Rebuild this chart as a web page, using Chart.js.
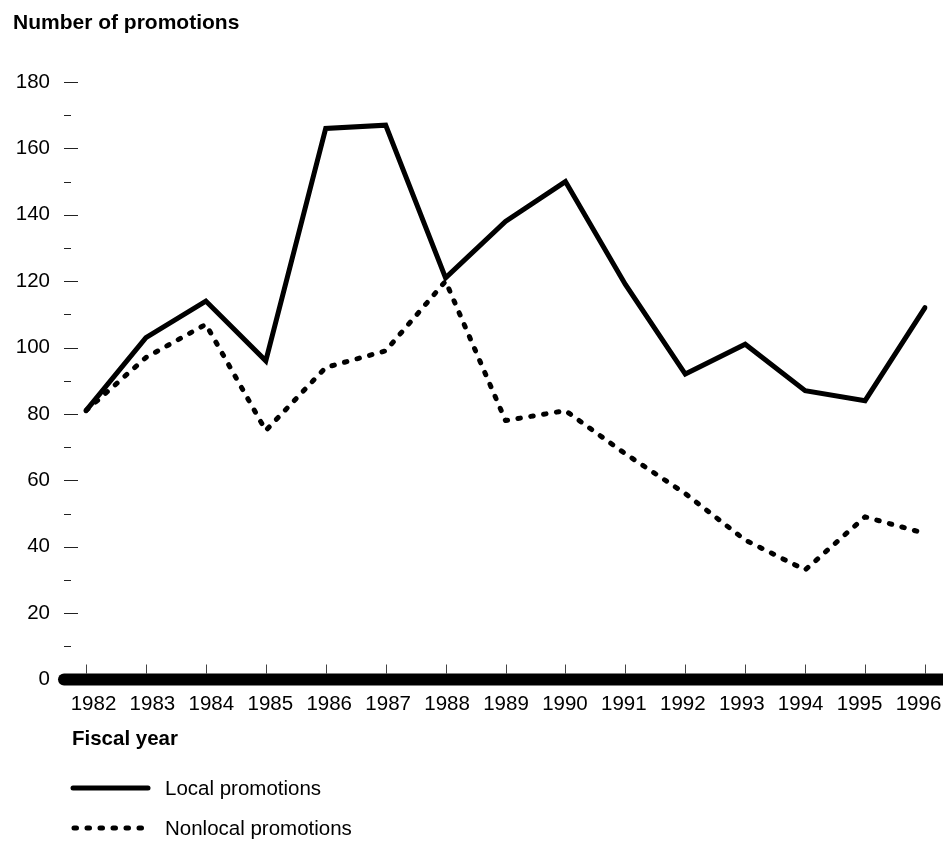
<!DOCTYPE html>
<html>
<head>
<meta charset="utf-8">
<script src="https://cdn.jsdelivr.net/npm/chart.js@4.4.1/dist/chart.umd.min.js"></script>
<style>
  html, body { margin: 0; padding: 0; background: #ffffff; }
  #wrap { width: 943px; height: 842px; position: relative; }
</style>
</head>
<body>
<div id="wrap"><canvas id="c"></canvas></div>
<script>
// ---- Data ----
const years = ['1982','1983','1984','1985','1986','1987','1988','1989','1990','1991','1992','1993','1994','1995','1996'];
const localPromotions    = [81, 103, 114, 96, 166, 167, 121, 138, 150, 119, 92, 101, 87, 84, 112];
const nonlocalPromotions = [81,  97, 107, 75,  94,  99, 120,  78,  81,  68, 56,  42, 33, 49,  44];
const yTickValues = [0, 20, 40, 60, 80, 100, 120, 140, 160, 180];
const chartTitle = 'Number of promotions';
const xAxisTitle = 'Fiscal year';
const seriesNames = ['Local promotions', 'Nonlocal promotions'];

const FONT = '"Liberation Sans", Arial, Helvetica, sans-serif';

const decorPlugin = {
  id: 'decor',
  beforeDatasetsDraw(chart) {
    const ctx = chart.ctx;
    const xs = chart.scales.x, ys = chart.scales.y;
    const y0 = ys.getPixelForValue(0);
    ctx.save();
    // y-axis tick marks (major + minor)
    ctx.strokeStyle = '#222';
    ctx.lineWidth = 1;
    yTickValues.forEach((v, i) => {
      const py = Math.round(ys.getPixelForValue(v)) + 0.5;
      if (v !== 0) {
        ctx.beginPath(); ctx.moveTo(64, py); ctx.lineTo(78, py); ctx.stroke();
      }
      if (i < yTickValues.length - 1) {
        const pm = Math.round(ys.getPixelForValue((v + yTickValues[i + 1]) / 2)) + 0.5;
        ctx.beginPath(); ctx.moveTo(64, pm); ctx.lineTo(71, pm); ctx.stroke();
      }
    });
    // x-axis tick marks
    ctx.strokeStyle = '#444';
    years.forEach((yr, i) => {
      const px = Math.round(xs.getPixelForValue(i)) + 0.5;
      ctx.beginPath(); ctx.moveTo(px, y0 - 15); ctx.lineTo(px, y0 - 6); ctx.stroke();
    });
    // thick baseline
    ctx.strokeStyle = '#000';
    ctx.lineWidth = 12;
    ctx.lineCap = 'round';
    ctx.beginPath();
    ctx.moveTo(chart.chartArea.left - 22, y0);
    ctx.lineTo(chart.width + 20, y0);
    ctx.stroke();
    ctx.restore();
  },
  afterDraw(chart) {
    const ctx = chart.ctx;
    ctx.save();
    ctx.fillStyle = '#000';
    ctx.textAlign = 'left';
    ctx.textBaseline = 'alphabetic';
    ctx.font = 'bold 21px ' + FONT;
    ctx.fillText(chartTitle, 13, 29);
    ctx.font = 'bold 20.5px ' + FONT;
    ctx.fillText(xAxisTitle, 72, 745);
    // legend
    chart.data.datasets.forEach((ds, i) => {
      const ly = 788 + i * 40;
      ctx.save();
      ctx.strokeStyle = ds.borderColor;
      ctx.lineWidth = ds.borderWidth;
      ctx.lineCap = 'round';
      ctx.setLineDash(ds.borderDash || []);
      ctx.beginPath();
      if (ds.borderDash && ds.borderDash.length) {
        ctx.moveTo(74, ly); ctx.lineTo(150, ly);
      } else {
        ctx.moveTo(73, ly); ctx.lineTo(148, ly);
      }
      ctx.stroke();
      ctx.restore();
      ctx.font = '20.5px ' + FONT;
      ctx.textBaseline = 'middle';
      ctx.fillText(ds.label, 165, ly + 1);
    });
    ctx.restore();
  }
};

new Chart(document.getElementById('c'), {
  type: 'line',
  data: {
    labels: years,
    datasets: [
      {
        label: seriesNames[0],
        data: localPromotions,
        borderColor: '#000',
        borderWidth: 5,
        borderCapStyle: 'round',
        borderJoinStyle: 'miter',
        pointRadius: 0,
        tension: 0,
        fill: false
      },
      {
        label: seriesNames[1],
        data: nonlocalPromotions,
        borderColor: '#000',
        borderWidth: 5,
        borderDash: [2.5, 10.5],
        borderCapStyle: 'round',
        borderJoinStyle: 'round',
        pointRadius: 0,
        tension: 0,
        fill: false
      }
    ]
  },
  options: {
    responsive: true,
    maintainAspectRatio: false,
    animation: false,
    layout: { padding: { top: 82, left: 8, right: 18, bottom: 122.5 } },
    plugins: { legend: { display: false }, title: { display: false }, tooltip: { enabled: false } },
    scales: {
      x: {
        type: 'category',
        offset: false,
        grid: { display: false, drawTicks: false },
        border: { display: false },
        ticks: { display: false },
        afterFit(scale) { scale.height = 0; scale.paddingLeft = 0; scale.paddingRight = 0; }
      },
      xLabels: {
        type: 'linear',
        position: 'bottom',
        min: -0.127, max: 14.11,
        grid: { display: false, drawTicks: false },
        border: { display: false },
        afterBuildTicks(scale) { scale.ticks = years.map((y, i) => ({ value: i })); },
        ticks: {
          color: '#000', font: { family: FONT, size: 20.5 }, padding: 13,
          autoSkip: false, maxRotation: 0, minRotation: 0,
          callback: (v) => years[Math.round(v)]
        },
        afterFit(scale) { scale.height = 40; scale.paddingLeft = 0; scale.paddingRight = 0; }
      },
      y: {
        min: 0, max: 180,
        grid: { display: false, drawTicks: false },
        border: { display: false },
        afterBuildTicks(scale) { scale.ticks = yTickValues.map(v => ({ value: v })); },
        ticks: { color: '#000', font: { family: FONT, size: 20.5 }, padding: 36 },
        afterFit(scale) { scale.width = 78; scale.paddingTop = 0; scale.paddingBottom = 0; }
      }
    }
  },
  plugins: [decorPlugin]
});
</script>
</body>
</html>
